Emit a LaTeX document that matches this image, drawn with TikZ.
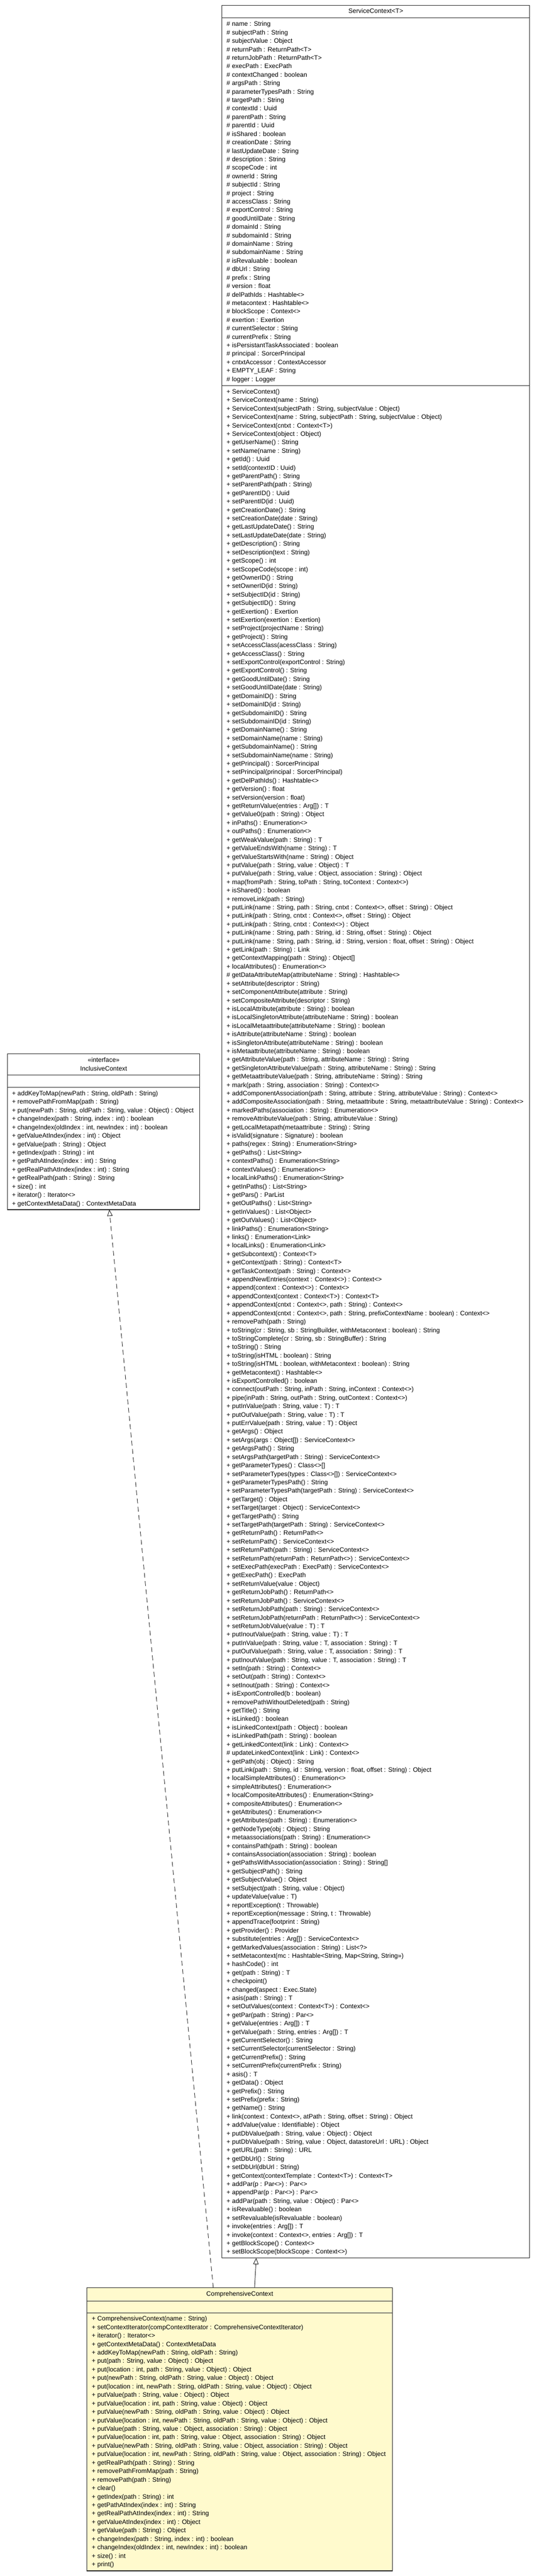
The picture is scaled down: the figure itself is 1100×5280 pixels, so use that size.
\documentclass[tikz,border=0pt]{standalone}
\usepackage{fontspec}
\setmainfont{Liberation Sans}
\usetikzlibrary{arrows.meta}
\definecolor{umlline}{RGB}{35,35,35}
\definecolor{lemon}{RGB}{255,250,205}
\begin{document}
\begin{tikzpicture}[x=1pt,y=-1pt,
  classbox/.style={draw=umlline,line width=1.3pt,inner sep=0pt,outer sep=0pt,anchor=north west},
  sepline/.style={draw=umlline,line width=1.3pt},
  txt/.style={inner sep=0pt,outer sep=0pt,anchor=base west,font=\fontsize{13.1pt}{17pt}\selectfont},
  ttl/.style={inner sep=0pt,outer sep=0pt,anchor=base,font=\fontsize{13.1pt}{17pt}\selectfont},
  inherit/.style={draw=umlline,line width=1pt,-{Triangle[open,length=13pt,width=11pt,fill=white]}},
  realize/.style={inherit,dash pattern=on 10pt off 7pt}]
\fill[white] (0,0) rectangle (1100,5280);
\useasboundingbox (0,0) rectangle (1100,5280);

% ---------------- ServiceContext ----------------
\node[classbox,fill=white,minimum width=630pt,minimum height=4617pt] (sc) at (455,11) {};
\node[ttl] (sc-title) at (770,27.4) {ServiceContext<T>};
\draw[sepline] (sc.west |- 0,36.7) -- (sc.east |- 0,36.7);
\draw[sepline] (sc.west |- 0,790.7) -- (sc.east |- 0,790.7);
\foreach \t [count=\i] in {
{\# name : String},
{\# subjectPath : String},
{\# subjectValue : Object},
{\# returnPath : ReturnPath<T>},
{\# returnJobPath : ReturnPath<T>},
{\# execPath : ExecPath},
{\# contextChanged : boolean},
{\# argsPath : String},
{\# parameterTypesPath : String},
{\# targetPath : String},
{\# contextId : Uuid},
{\# parentPath : String},
{\# parentId : Uuid},
{\# isShared : boolean},
{\# creationDate : String},
{\# lastUpdateDate : String},
{\# description : String},
{\# scopeCode : int},
{\# ownerId : String},
{\# subjectId : String},
{\# project : String},
{\# accessClass : String},
{\# exportControl : String},
{\# goodUntilDate : String},
{\# domainId : String},
{\# subdomainId : String},
{\# domainName : String},
{\# subdomainName : String},
{\# isRevaluable : boolean},
{\# dbUrl : String},
{\# prefix : String},
{\# version : float},
{\# delPathIds : Hashtable<>},
{\# metacontext : Hashtable<>},
{\# blockScope : Context<>},
{\# exertion : Exertion},
{\# currentSelector : String},
{\# currentPrefix : String},
{+ isPersistantTaskAssociated : boolean},
{\# principal : SorcerPrincipal},
{+ cntxtAccessor : ContextAccessor},
{+ EMPTY\_LEAF : String},
{\# logger : Logger}}
{\node[txt] (sc-a\i) at ({464.3},{53.7+(\i-1)*17.33}) {\t};}

\foreach \t [count=\i] in {
{+ ServiceContext()},
{+ ServiceContext(name : String)},
{+ ServiceContext(subjectPath : String, subjectValue : Object)},
{+ ServiceContext(name : String, subjectPath : String, subjectValue : Object)},
{+ ServiceContext(cntxt : Context<T>)},
{+ ServiceContext(object : Object)},
{+ getUserName() : String},
{+ setName(name : String)},
{+ getId() : Uuid},
{+ setId(contextID : Uuid)},
{+ getParentPath() : String},
{+ setParentPath(path : String)},
{+ getParentID() : Uuid},
{+ setParentID(id : Uuid)},
{+ getCreationDate() : String},
{+ setCreationDate(date : String)},
{+ getLastUpdateDate() : String},
{+ setLastUpdateDate(date : String)},
{+ getDescription() : String},
{+ setDescription(text : String)},
{+ getScope() : int},
{+ setScopeCode(scope : int)},
{+ getOwnerID() : String},
{+ setOwnerID(id : String)},
{+ setSubjectID(id : String)},
{+ getSubjectID() : String},
{+ getExertion() : Exertion},
{+ setExertion(exertion : Exertion)},
{+ setProject(projectName : String)},
{+ getProject() : String},
{+ setAccessClass(acessClass : String)},
{+ getAccessClass() : String},
{+ setExportControl(exportControl : String)},
{+ getExportControl() : String},
{+ getGoodUntilDate() : String},
{+ setGoodUntilDate(date : String)},
{+ getDomainID() : String},
{+ setDomainID(id : String)},
{+ getSubdomainID() : String},
{+ setSubdomainID(id : String)},
{+ getDomainName() : String},
{+ setDomainName(name : String)},
{+ getSubdomainName() : String},
{+ setSubdomainName(name : String)},
{+ getPrincipal() : SorcerPrincipal},
{+ setPrincipal(principal : SorcerPrincipal)},
{+ getDelPathIds() : Hashtable<>},
{+ getVersion() : float},
{+ setVersion(version : float)},
{+ getReturnValue(entries : Arg[]) : T},
{+ getValue0(path : String) : Object},
{+ inPaths() : Enumeration<>},
{+ outPaths() : Enumeration<>},
{+ getWeakValue(path : String) : T},
{+ getValueEndsWith(name : String) : T},
{+ getValueStartsWith(name : String) : Object},
{+ putValue(path : String, value : Object) : T},
{+ putValue(path : String, value : Object, association : String) : Object},
{+ map(fromPath : String, toPath : String, toContext : Context<>)},
{+ isShared() : boolean},
{+ removeLink(path : String)},
{+ putLink(name : String, path : String, cntxt : Context<>, offset : String) : Object},
{+ putLink(path : String, cntxt : Context<>, offset : String) : Object},
{+ putLink(path : String, cntxt : Context<>) : Object},
{+ putLink(name : String, path : String, id : String, offset : String) : Object},
{+ putLink(name : String, path : String, id : String, version : float, offset : String) : Object},
{+ getLink(path : String) : Link},
{+ getContextMapping(path : String) : Object[]},
{+ localAttributes() : Enumeration<>},
{\# getDataAttributeMap(attributeName : String) : Hashtable<>},
{+ setAttribute(descriptor : String)},
{+ setComponentAttribute(attribute : String)},
{+ setCompositeAttribute(descriptor : String)},
{+ isLocalAttribute(attribute : String) : boolean},
{+ isLocalSingletonAttribute(attributeName : String) : boolean},
{+ isLocalMetaattribute(attributeName : String) : boolean},
{+ isAttribute(attributeName : String) : boolean},
{+ isSingletonAttribute(attributeName : String) : boolean},
{+ isMetaattribute(attributeName : String) : boolean},
{+ getAttributeValue(path : String, attributeName : String) : String},
{+ getSingletonAttributeValue(path : String, attributeName : String) : String},
{+ getMetaattributeValue(path : String, attributeName : String) : String},
{+ mark(path : String, association : String) : Context<>},
{+ addComponentAssociation(path : String, attribute : String, attributeValue : String) : Context<>},
{+ addCompositeAssociation(path : String, metaattribute : String, metaattributeValue : String) : Context<>},
{+ markedPaths(association : String) : Enumeration<>},
{+ removeAttributeValue(path : String, attributeValue : String)},
{+ getLocalMetapath(metaattribute : String) : String},
{+ isValid(signature : Signature) : boolean},
{+ paths(regex : String) : Enumeration<String>},
{+ getPaths() : List<String>},
{+ contextPaths() : Enumeration<String>},
{+ contextValues() : Enumeration<>},
{+ localLinkPaths() : Enumeration<String>},
{+ getInPaths() : List<String>},
{+ getPars() : ParList},
{+ getOutPaths() : List<String>},
{+ getInValues() : List<Object>},
{+ getOutValues() : List<Object>},
{+ linkPaths() : Enumeration<String>},
{+ links() : Enumeration<Link>},
{+ localLinks() : Enumeration<Link>},
{+ getSubcontext() : Context<T>},
{+ getContext(path : String) : Context<T>},
{+ getTaskContext(path : String) : Context<>},
{+ appendNewEntries(context : Context<>) : Context<>},
{+ append(context : Context<>) : Context<>},
{+ appendContext(context : Context<T>) : Context<T>},
{+ appendContext(cntxt : Context<>, path : String) : Context<>},
{+ appendContext(cntxt : Context<>, path : String, prefixContextName : boolean) : Context<>},
{+ removePath(path : String)},
{+ toString(cr : String, sb : StringBuilder, withMetacontext : boolean) : String},
{+ toStringComplete(cr : String, sb : StringBuffer) : String},
{+ toString() : String},
{+ toString(isHTML : boolean) : String},
{+ toString(isHTML : boolean, withMetacontext : boolean) : String},
{+ getMetacontext() : Hashtable<>},
{+ isExportControlled() : boolean},
{+ connect(outPath : String, inPath : String, inContext : Context<>)},
{+ pipe(inPath : String, outPath : String, outContext : Context<>)},
{+ putInValue(path : String, value : T) : T},
{+ putOutValue(path : String, value : T) : T},
{+ putErrValue(path : String, value : T) : Object},
{+ getArgs() : Object},
{+ setArgs(args : Object[]) : ServiceContext<>},
{+ getArgsPath() : String},
{+ setArgsPath(targetPath : String) : ServiceContext<>},
{+ getParameterTypes() : Class<>[]},
{+ setParameterTypes(types : Class<>[]) : ServiceContext<>},
{+ getParameterTypesPath() : String},
{+ setParameterTypesPath(targetPath : String) : ServiceContext<>},
{+ getTarget() : Object},
{+ setTarget(target : Object) : ServiceContext<>},
{+ getTargetPath() : String},
{+ setTargetPath(targetPath : String) : ServiceContext<>},
{+ getReturnPath() : ReturnPath<>},
{+ setReturnPath() : ServiceContext<>},
{+ setReturnPath(path : String) : ServiceContext<>},
{+ setReturnPath(returnPath : ReturnPath<>) : ServiceContext<>},
{+ setExecPath(execPath : ExecPath) : ServiceContext<>},
{+ getExecPath() : ExecPath},
{+ setReturnValue(value : Object)},
{+ getReturnJobPath() : ReturnPath<>},
{+ setReturnJobPath() : ServiceContext<>},
{+ setReturnJobPath(path : String) : ServiceContext<>},
{+ setReturnJobPath(returnPath : ReturnPath<>) : ServiceContext<>},
{+ setReturnJobValue(value : T) : T},
{+ putInoutValue(path : String, value : T) : T},
{+ putInValue(path : String, value : T, association : String) : T},
{+ putOutValue(path : String, value : T, association : String) : T},
{+ putInoutValue(path : String, value : T, association : String) : T},
{+ setIn(path : String) : Context<>},
{+ setOut(path : String) : Context<>},
{+ setInout(path : String) : Context<>},
{+ isExportControlled(b : boolean)},
{+ removePathWithoutDeleted(path : String)},
{+ getTitle() : String},
{+ isLinked() : boolean},
{+ isLinkedContext(path : Object) : boolean},
{+ isLinkedPath(path : String) : boolean},
{+ getLinkedContext(link : Link) : Context<>},
{\# updateLinkedContext(link : Link) : Context<>},
{+ getPath(obj : Object) : String},
{+ putLink(path : String, id : String, version : float, offset : String) : Object},
{+ localSimpleAttributes() : Enumeration<>},
{+ simpleAttributes() : Enumeration<>},
{+ localCompositeAttributes() : Enumeration<String>},
{+ compositeAttributes() : Enumeration<>},
{+ getAttributes() : Enumeration<>},
{+ getAttributes(path : String) : Enumeration<>},
{+ getNodeType(obj : Object) : String},
{+ metaassociations(path : String) : Enumeration<>},
{+ containsPath(path : String) : boolean},
{+ containsAssociation(association : String) : boolean},
{+ getPathsWithAssociation(association : String) : String[]},
{+ getSubjectPath() : String},
{+ getSubjectValue() : Object},
{+ setSubject(path : String, value : Object)},
{+ updateValue(value : T)},
{+ reportException(t : Throwable)},
{+ reportException(message : String, t : Throwable)},
{+ appendTrace(footprint : String)},
{+ getProvider() : Provider},
{+ substitute(entries : Arg[]) : ServiceContext<>},
{+ getMarkedValues(association : String) : List<?>},
{+ setMetacontext(mc : Hashtable<String, Map<String, String>>)},
{+ hashCode() : int},
{+ get(path : String) : T},
{+ checkpoint()},
{+ changed(aspect : Exec.State)},
{+ asis(path : String) : T},
{+ setOutValues(context : Context<T>) : Context<>},
{+ getPar(path : String) : Par<>},
{+ getValue(entries : Arg[]) : T},
{+ getValue(path : String, entries : Arg[]) : T},
{+ getCurrentSelector() : String},
{+ setCurrentSelector(currentSelector : String)},
{+ getCurrentPrefix() : String},
{+ setCurrentPrefix(currentPrefix : String)},
{+ asis() : T},
{+ getData() : Object},
{+ getPrefix() : String},
{+ setPrefix(prefix : String)},
{+ getName() : String},
{+ link(context : Context<>, atPath : String, offset : String) : Object},
{+ addValue(value : Identifiable) : Object},
{+ putDbValue(path : String, value : Object) : Object},
{+ putDbValue(path : String, value : Object, datastoreUrl : URL) : Object},
{+ getURL(path : String) : URL},
{+ getDbUrl() : String},
{+ setDbUrl(dbUrl : String)},
{+ getContext(contextTemplate : Context<T>) : Context<T>},
{+ addPar(p : Par<>) : Par<>},
{+ appendPar(p : Par<>) : Par<>},
{+ addPar(path : String, value : Object) : Par<>},
{+ isRevaluable() : boolean},
{+ setRevaluable(isRevaluable : boolean)},
{+ invoke(entries : Arg[]) : T},
{+ invoke(context : Context<>, entries : Arg[]) : T},
{+ getBlockScope() : Context<>},
{+ setBlockScope(blockScope : Context<>)}}
{\node[txt] (sc-m\i) at ({464.3},{807.2+(\i-1)*17.33}) {\t};}

% ---------------- InclusiveContext ----------------
\node[classbox,fill=white,minimum width=393.3pt,minimum height=319.1pt] (ic) at (15.7,2160.3) {};
\node[ttl] (ic-stereo) at (212.4,2177.4) {«interface»};
\node[ttl] (ic-title) at (212.4,2194.7) {InclusiveContext};
\draw[sepline] (ic.west |- 0,2203.5) -- (ic.east |- 0,2203.5);
\draw[sepline] (ic.west |- 0,2228.7) -- (ic.east |- 0,2228.7);
\foreach \t [count=\i] in {
{+ addKeyToMap(newPath : String, oldPath : String)},
{+ removePathFromMap(path : String)},
{+ put(newPath : String, oldPath : String, value : Object) : Object},
{+ changeIndex(path : String, index : int) : boolean},
{+ changeIndex(oldIndex : int, newIndex : int) : boolean},
{+ getValueAtIndex(index : int) : Object},
{+ getValue(path : String) : Object},
{+ getIndex(path : String) : int},
{+ getPathAtIndex(index : int) : String},
{+ getRealPathAtIndex(index : int) : String},
{+ getRealPath(path : String) : String},
{+ size() : int},
{+ iterator() : Iterator<>},
{+ getContextMetaData() : ContextMetaData}}
{\node[txt] (ic-m\i) at ({24.6},{2245.3+(\i-1)*17.38}) {\t};}

% ---------------- ComprehensiveContext ----------------
\node[classbox,fill=lemon,minimum width=626pt,minimum height=580.4pt] (cc) at (178.3,4689) {};
\node[ttl] (cc-title) at (491.3,4706.5) {ComprehensiveContext};
\draw[sepline] (cc.west |- 0,4716.4) -- (cc.east |- 0,4716.4);
\draw[sepline] (cc.west |- 0,4740.8) -- (cc.east |- 0,4740.8);
\foreach \t [count=\i] in {
{+ ComprehensiveContext(name : String)},
{+ setContextIterator(compContextIterator : ComprehensiveContextIterator)},
{+ iterator() : Iterator<>},
{+ getContextMetaData() : ContextMetaData},
{+ addKeyToMap(newPath : String, oldPath : String)},
{+ put(path : String, value : Object) : Object},
{+ put(location : int, path : String, value : Object) : Object},
{+ put(newPath : String, oldPath : String, value : Object) : Object},
{+ put(location : int, newPath : String, oldPath : String, value : Object) : Object},
{+ putValue(path : String, value : Object) : Object},
{+ putValue(location : int, path : String, value : Object) : Object},
{+ putValue(newPath : String, oldPath : String, value : Object) : Object},
{+ putValue(location : int, newPath : String, oldPath : String, value : Object) : Object},
{+ putValue(path : String, value : Object, association : String) : Object},
{+ putValue(location : int, path : String, value : Object, association : String) : Object},
{+ putValue(newPath : String, oldPath : String, value : Object, association : String) : Object},
{+ putValue(location : int, newPath : String, oldPath : String, value : Object, association : String) : Object},
{+ getRealPath(path : String) : String},
{+ removePathFromMap(path : String)},
{+ removePath(path : String)},
{+ clear()},
{+ getIndex(path : String) : int},
{+ getPathAtIndex(index : int) : String},
{+ getRealPathAtIndex(index : int) : String},
{+ getValueAtIndex(index : int) : Object},
{+ getValue(path : String) : Object},
{+ changeIndex(path : String, index : int) : boolean},
{+ changeIndex(oldIndex : int, newIndex : int) : boolean},
{+ size() : int},
{+ print()}}
{\node[txt] (cc-m\i) at ({188.2},{4757.0+(\i-1)*17.36}) {\t};}

% ---------------- Connectors ----------------
\draw[inherit] ([xshift=343.3pt]cc.north west) -- ([xshift=70pt]sc.south west);
\draw[realize] ([xshift=258.7pt]cc.north west) -- ([xshift=208.3pt]ic.south west);
\end{tikzpicture}
\end{document}
